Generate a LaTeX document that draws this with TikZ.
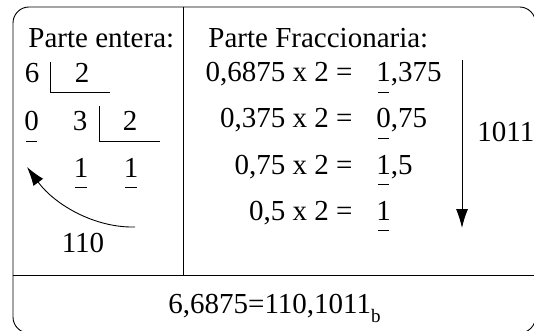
\documentclass[tikz,border=0pt]{standalone}
\usepackage{fontspec}
\setmainfont{Liberation Serif}
\usetikzlibrary{arrows.meta}
\newcommand\ulx[1]{\setbox0\hbox{#1}\rlap{\hspace{1.5pt}\rule[-11pt]{\dimexpr\wd0-3pt\relax}{0.9pt}}\box0}
\begin{document}
\begin{tikzpicture}[x=1pt,y=-1pt,
  font=\fontsize{29}{34}\selectfont,
  txt/.style={inner sep=0pt},
  lhs/.style={txt,anchor=base east},
  rhs/.style={txt,anchor=base west},
  dig/.style={txt,anchor=base},
  line width=0.9pt,
  bigtip/.style={-{Latex[length=19pt,width=12pt]}}]
\useasboundingbox (0,0) rectangle (534,331);
% frame
\draw[rounded corners=16pt] (13,7) rectangle (535.5,333);
\coordinate (dtop) at (183,7);
\coordinate (dbot) at (183,275);
\coordinate (hl) at (13,275);
\coordinate (hr) at (536,275);
\draw (dtop) -- (dbot);
\draw (hl) -- (hr);
% headings
\node[rhs] (pe) at (28,48) {Parte entera:};
\node[rhs] (pf) at (208,48) {Parte Fraccionaria:};
% integer part
\node[dig] (a6) at (32,83) {6};
\node[dig] (a2) at (82,83) {2};
\coordinate (d1a) at (50,62);
\coordinate (d1b) at (50,92);
\coordinate (d1c) at (110,92);
\draw (d1a) -- (d1b) -- (d1c);
\node[dig] (b0) at (31.5,131) {\ulx{0}};
\node[dig] (b3) at (80,131) {3};
\node[dig] (b2) at (130,131) {2};
\coordinate (d2a) at (99,106);
\coordinate (d2b) at (99,141);
\coordinate (d2c) at (160,141);
\draw (d2a) -- (d2b) -- (d2c);
\node[dig] (c1) at (81,177) {\ulx{1}};
\node[dig] (c2) at (131,177) {\ulx{1}};
\node[dig] (r110) at (83,252) {110};
\coordinate (cs) at (135,227);
\coordinate (ct) at (27,167);
\draw[bigtip] (cs) .. controls (95,228) and (55,205) .. (ct);
% fractional part
\node[lhs] (l1) at (353,82) {0,6875 x 2 =};
\node[rhs] (r1) at (376,82) {\ulx{1},375};
\node[lhs] (l2) at (353,128) {0,375 x 2 =};
\node[rhs] (r2) at (376,128) {\ulx{0},75};
\node[lhs] (l3) at (353,174) {0,75 x 2 =};
\node[rhs] (r3) at (376,174) {\ulx{1},5};
\node[lhs] (l4) at (353,220) {0,5 x 2 =};
\node[rhs] (r4) at (376,220) {\ulx{1}};
\coordinate (vt) at (462,60);
\coordinate (vb) at (462,228);
\draw[bigtip] (vt) -- (vb);
\node[rhs] (bits) at (477,142) {1011};
% result
\node[rhs] (res) at (168,313) {6,6875=110,1011\raisebox{-9pt}{\fontsize{19}{20}\selectfont b}};
\end{tikzpicture}
\end{document}
